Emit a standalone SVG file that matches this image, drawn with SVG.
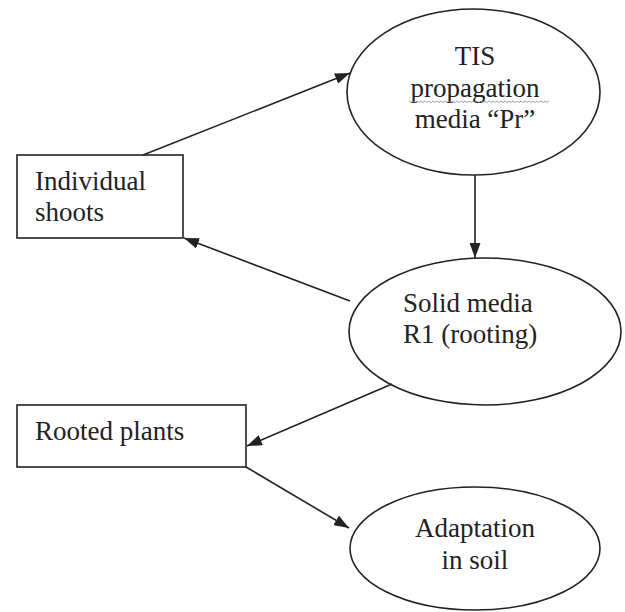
<svg xmlns="http://www.w3.org/2000/svg" width="625" height="612" viewBox="0 0 625 612">
<defs>
<style>
.shape{fill:#fff;stroke:#222;stroke-width:1.6}
.lbl{font-family:"Liberation Serif","Times New Roman",serif;font-size:27px;fill:#222}
.mid{text-anchor:middle}
.conn{stroke:#222;stroke-width:1.6;fill:none;marker-end:url(#ah)}
.squig{stroke:#8a8a8a;stroke-width:0.8;fill:none}
</style>
<marker id="ah" markerUnits="userSpaceOnUse" markerWidth="15" markerHeight="11" refX="15" refY="5.5" orient="auto">
<path d="M0,0 L15,5.5 L0,11 z" fill="#222"/>
</marker>
</defs>
<rect width="625" height="612" fill="#fff"/>
<g id="tis">
<ellipse class="shape" cx="473.5" cy="92" rx="126.5" ry="83"/>
<text class="lbl mid" x="475" y="65">TIS</text>
<text class="lbl mid" x="475" y="97">propagation</text>
<path class="squig" d="M409,101 l2,1.5 l2,-1.5 l2,1.5 l2,-1.5 l2,1.5 l2,-1.5 l2,1.5 l2,-1.5 l2,1.5 l2,-1.5 l2,1.5 l2,-1.5 l2,1.5 l2,-1.5 l2,1.5 l2,-1.5 l2,1.5 l2,-1.5 l2,1.5 l2,-1.5 l2,1.5 l2,-1.5 l2,1.5 l2,-1.5 l2,1.5 l2,-1.5 l2,1.5 l2,-1.5 l2,1.5 l2,-1.5 l2,1.5 l2,-1.5 l2,1.5 l2,-1.5 l2,1.5 l2,-1.5 l2,1.5 l2,-1.5 l2,1.5 l2,-1.5 l2,1.5 l2,-1.5 l2,1.5 l2,-1.5 l2,1.5 l2,-1.5 l2,1.5 l2,-1.5 l2,1.5 l2,-1.5 l2,1.5 l2,-1.5 l2,1.5 l2,-1.5 l2,1.5 l2,-1.5 l2,1.5 l2,-1.5 l2,1.5 l2,-1.5 l2,1.5 l2,-1.5 l2,1.5 l2,-1.5 l2,1.5 l2,-1.5 l2,1.5 l2,-1.5 l2,1.5 l2,-1.5"/>
<text class="lbl mid" x="475" y="128">media “Pr”</text>
</g>
<g id="individual">
<rect class="shape" x="17" y="155" width="166" height="83"/>
<text class="lbl" x="35" y="190">Individual</text>
<text class="lbl" x="35" y="221">shoots</text>
</g>
<g id="solid">
<ellipse class="shape" cx="485" cy="331.5" rx="136" ry="73.5"/>
<text class="lbl" x="403" y="312">Solid media</text>
<text class="lbl" x="403" y="343">R1 (rooting)</text>
</g>
<g id="rooted">
<rect class="shape" x="17" y="405" width="229" height="62"/>
<text class="lbl" x="35" y="440">Rooted plants</text>
</g>
<g id="adaptation">
<ellipse class="shape" cx="475" cy="548.5" rx="125" ry="61.5"/>
<text class="lbl mid" x="475" y="537">Adaptation</text>
<text class="lbl mid" x="475" y="569">in soil</text>
</g>
<g id="connectors">
<line class="conn" x1="143" y1="155" x2="350" y2="73"/>
<line class="conn" x1="475" y1="175" x2="475" y2="258"/>
<line class="conn" x1="350" y1="301" x2="184" y2="238"/>
<line class="conn" x1="392" y1="384" x2="247" y2="446"/>
<line class="conn" x1="246" y1="467" x2="349" y2="528"/>
</g>
</svg>
